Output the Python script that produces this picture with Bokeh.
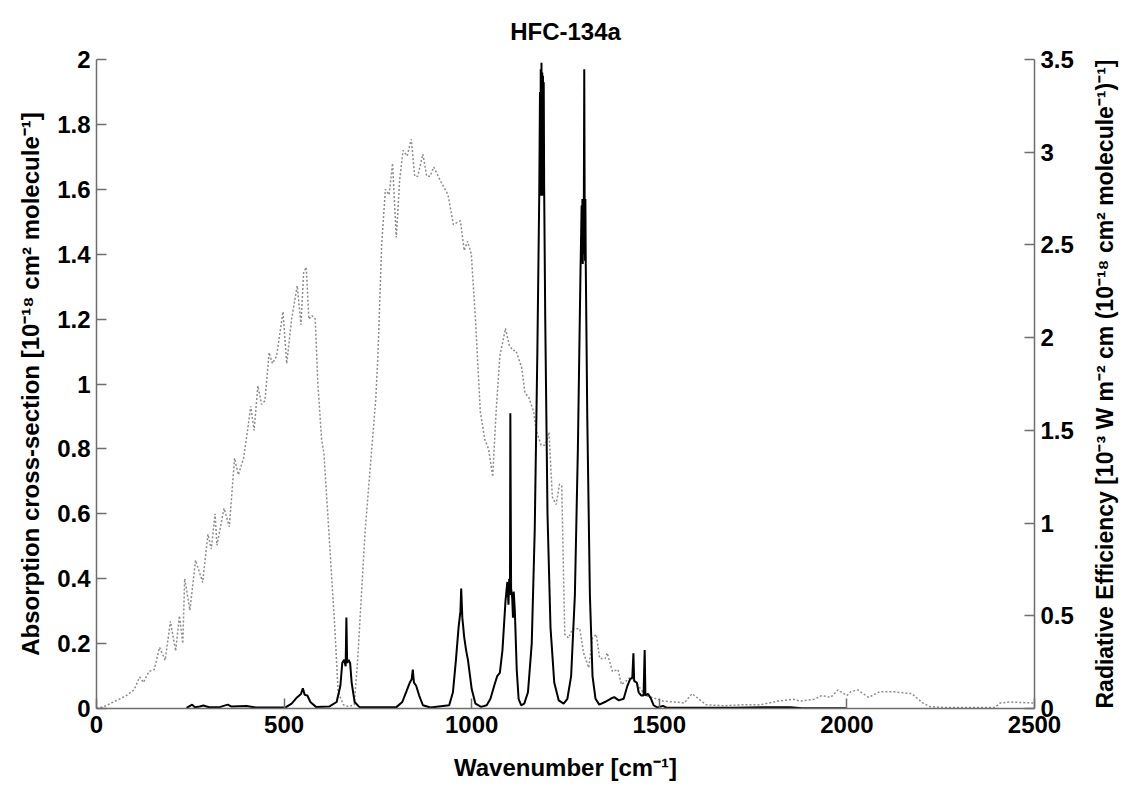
import math
from bokeh.plotting import figure
from bokeh.layouts import row
from bokeh.models import Range1d, LinearAxis, FixedTicker, CustomJSTickFormatter, Title
from bokeh.embed import file_html
from bokeh.resources import INLINE

# Absorption cross-section (left axis, 10^-18 cm^2 molecule^-1)
wn_abs = [240, 255, 262, 275, 285, 300, 330, 350, 360, 400, 420, 470, 505, 520, 535, 545, 550, 555, 562, 570, 585,
          620, 640, 650, 655, 660, 664, 666, 668, 672, 676, 680, 688, 700, 760, 800, 815, 825, 835, 840, 843, 846,
          852, 860, 870, 890, 940, 950, 958, 965, 970, 972, 975, 980, 985, 990, 1000, 1010, 1025, 1040, 1050, 1060,
          1068, 1075, 1082, 1090, 1095, 1098, 1100, 1102, 1103, 1105, 1108, 1110, 1112, 1115, 1120, 1125, 1132,
          1140, 1150, 1160, 1168, 1175, 1180, 1182, 1183, 1184, 1185, 1186, 1187, 1188, 1189, 1190, 1191, 1192,
          1193, 1196, 1202, 1210, 1220, 1232,
          1245, 1255, 1265, 1275, 1283, 1290, 1293, 1294, 1295, 1296, 1297, 1298, 1299, 1300, 1301, 1302, 1303,
          1304, 1308, 1315, 1322, 1330, 1340,
          1355, 1370, 1380, 1392, 1405, 1415, 1422, 1428, 1431, 1433, 1440, 1445, 1452, 1458, 1461, 1463, 1470,
          1478, 1485, 1495, 1510, 1520, 1700, 1800, 1850, 1880, 2000]
abs_cs = [0.002, 0.012, 0.004, 0.006, 0.009, 0.004, 0.005, 0.012, 0.006, 0.008, 0.004, 0.003, 0.004, 0.015, 0.035,
          0.045, 0.062, 0.042, 0.04, 0.02, 0.005, 0.006, 0.02, 0.07, 0.14, 0.15, 0.13, 0.28, 0.14, 0.15, 0.14, 0.08,
          0.02, 0.005, 0.004, 0.005, 0.02, 0.05, 0.08, 0.09, 0.12, 0.08, 0.07, 0.04, 0.01, 0.003, 0.01, 0.05, 0.15,
          0.25, 0.3, 0.37, 0.28, 0.22, 0.18, 0.15, 0.06, 0.015, 0.005, 0.01, 0.03, 0.07, 0.1, 0.11, 0.18, 0.33,
          0.39, 0.32, 0.4, 0.35, 0.91, 0.37, 0.34, 0.28, 0.36, 0.3, 0.12, 0.03, 0.01, 0.015, 0.05, 0.2, 0.55, 1.1,
          1.58, 1.9, 1.6, 1.97, 1.58, 1.99, 1.6, 1.96, 1.58, 1.95, 1.6, 1.93,
          1.62, 1.2, 0.6, 0.25, 0.08, 0.025,
          0.015, 0.03, 0.1, 0.35, 0.8, 1.35, 1.55, 1.38, 1.57, 1.37, 1.57, 1.4, 1.6, 1.97, 1.57, 1.38, 1.57,
          1.37, 0.9, 0.35, 0.1, 0.03, 0.012,
          0.02, 0.03, 0.035, 0.025, 0.03, 0.07,
          0.09, 0.095, 0.17, 0.085, 0.08, 0.05, 0.04, 0.04, 0.18, 0.04, 0.045, 0.03, 0.01, 0.003, 0.008, 0.002,
          0.002, 0.004, 0.004, 0.001, 0.001]

# Radiative efficiency (right axis, 10^-3 W m^-2 cm (10^-18 cm^2 molecule^-1)^-1)
wn_re = [0, 20, 40, 60, 80, 100, 115, 125, 140, 154, 168, 183, 197, 211, 221, 230, 235, 249, 264, 283, 297, 306,
         316, 321, 340, 354, 368, 378, 392, 402, 411, 420, 430, 440, 449, 460, 469, 480, 497, 507, 520, 535, 545,
         552, 559, 566, 574, 583, 590, 600, 606, 620, 635, 644, 658, 672, 687, 696, 706, 716, 730, 744, 750, 760,
         770, 780, 789, 799, 808, 817, 828, 839, 848, 856, 870, 880, 889, 899, 918, 937, 951, 970, 980, 989, 999,
         1010, 1023, 1035, 1045, 1056, 1065, 1075, 1090, 1100, 1110, 1118, 1133, 1142, 1152, 1165, 1172, 1185,
         1196, 1206, 1215, 1225, 1234, 1240, 1248, 1258, 1269, 1288, 1298, 1312, 1322, 1332, 1341, 1356, 1361,
         1375, 1390, 1399, 1413, 1423, 1442, 1462, 1481, 1510, 1567, 1587, 1606, 1625, 1673, 1721, 1769, 1817,
         1856, 1875, 1913, 1933, 1957, 1976, 2000, 2010, 2029, 2058, 2087, 2125, 2173, 2202, 2221, 2260, 2394,
         2409, 2433, 2490, 2500]
re_vals = [0.0, 0.01, 0.03, 0.05, 0.07, 0.1, 0.17, 0.14, 0.2, 0.21, 0.33, 0.26, 0.47, 0.31, 0.5, 0.35, 0.7, 0.53,
           0.8, 0.68, 0.94, 0.86, 1.05, 0.88, 1.08, 0.98, 1.35, 1.26, 1.35, 1.49, 1.63, 1.5, 1.74, 1.64, 1.66, 1.92,
           1.86, 1.9, 2.14, 1.86, 2.1, 2.28, 2.07, 2.35, 2.38, 2.1, 2.12, 2.1, 1.75, 1.45, 1.38, 0.93, 0.44, 0.09,
           0.02, 0.01, 0.02, 0.26, 0.61, 0.96, 1.31, 1.66, 1.9, 2.5, 2.8, 2.77, 2.94, 2.54, 2.85, 3.01, 2.98, 3.07,
           2.87, 2.87, 2.99, 2.87, 2.87, 2.92, 2.84, 2.77, 2.61, 2.63, 2.47, 2.52, 2.45, 2.1, 1.6, 1.45, 1.4, 1.25,
           1.6, 1.9, 2.05, 1.96, 1.93, 1.93, 1.84, 1.7, 1.68, 1.6, 1.5, 1.42, 1.42, 1.49, 1.14, 1.1, 1.21, 1.2, 0.4,
           0.38, 0.43, 0.43, 0.3, 0.22, 0.38, 0.4, 0.27, 0.27, 0.3, 0.2, 0.21, 0.13, 0.15, 0.17, 0.13, 0.07, 0.06,
           0.04, 0.03, 0.08, 0.05, 0.02, 0.015, 0.02, 0.02, 0.04, 0.05, 0.04, 0.05, 0.07, 0.06, 0.1, 0.07, 0.09,
           0.1, 0.06, 0.09, 0.09, 0.08, 0.03, 0.01, 0.005, 0.005, 0.03, 0.035, 0.03, 0.03]

x_ticks = [0, 500, 1000, 1500, 2000, 2500]
left_ticks = [0, 0.2, 0.4, 0.6, 0.8, 1.0, 1.2, 1.4, 1.6, 1.8, 2.0]
right_ticks = [0, 0.5, 1.0, 1.5, 2.0, 2.5, 3.0, 3.5]

title_text = "HFC-134a"
x_label = "Wavenumber [cm\u207B\u00B9]"
left_label = "Absorption cross-section [10\u207B\u00B9\u2078 cm\u00B2 molecule\u207B\u00B9]"
right_label = "Radiative Efficiency [10\u207B\u00B3 W m\u207B\u00B2 cm (10\u207B\u00B9\u2078 cm\u00B2 molecule\u207B\u00B9)\u207B\u00B9]"

FONT = "Liberation Sans"
AX_COL = "#6e6e6e"
H = 785

p = figure(width=1089, height=H, output_backend="svg", toolbar_location=None,
           x_range=Range1d(0, 2500), y_range=Range1d(0, 2),
           min_border_left=96, min_border_right=55, min_border_top=58, min_border_bottom=77,
           title=title_text)
p.extra_y_ranges = {"re": Range1d(0, 3.5)}
p.outline_line_color = None
p.xgrid.visible = False
p.ygrid.visible = False
p.background_fill_color = "white"
p.border_fill_color = "white"

p.title.align = "center"
p.title.vertical_align = "bottom"
p.title.text_font = FONT
p.title.text_font_size = "24px"
p.title.text_font_style = "bold"
p.title.text_color = "black"
p.title.standoff = 30

fmt = CustomJSTickFormatter(code="return parseFloat(tick.toFixed(2)).toString();")

right_axis = LinearAxis(y_range_name="re")
p.add_layout(right_axis, "right")

for ax in [p.xaxis[0], p.yaxis[0], right_axis]:
    ax.axis_line_color = AX_COL
    ax.axis_line_width = 1.5
    ax.major_tick_line_color = AX_COL
    ax.major_tick_line_width = 1.5
    ax.major_tick_in = 10
    ax.major_tick_out = 0
    ax.minor_tick_line_color = None
    ax.major_label_text_font = FONT
    ax.major_label_text_font_size = "24px"
    ax.major_label_text_font_style = "bold"
    ax.major_label_text_color = "black"
    ax.axis_label_text_font = FONT
    ax.axis_label_text_font_size = "24px"
    ax.axis_label_text_font_style = "bold"
    ax.axis_label_text_color = "black"
    ax.formatter = fmt

p.xaxis[0].ticker = FixedTicker(ticks=x_ticks)
p.yaxis[0].ticker = FixedTicker(ticks=left_ticks)
right_axis.ticker = FixedTicker(ticks=right_ticks)

p.xaxis[0].axis_label = x_label
p.xaxis[0].major_label_standoff = 7
p.xaxis[0].axis_label_standoff = 18
p.yaxis[0].axis_label = left_label
p.yaxis[0].major_label_standoff = 6
p.yaxis[0].axis_label_standoff = 10
right_axis.major_label_standoff = 6

p.line(wn_re, re_vals, y_range_name="re", line_color="#8c8c8c", line_width=1.5, line_dash="2 2")
p.line(wn_abs, abs_cs, line_color="black", line_width=2)

# narrow side strip whose left-panel title carries the right-hand axis title (reads bottom-to-top)
side = figure(width=36, height=H, output_backend="svg", toolbar_location=None,
              x_range=Range1d(0, 1), y_range=Range1d(0, 1),
              x_axis_location=None, y_axis_location=None,
              min_border_left=0, min_border_right=0, min_border_top=58, min_border_bottom=77)
side.outline_line_color = None
side.xgrid.visible = False
side.ygrid.visible = False
side.add_layout(Title(text=right_label, align="center", standoff=0,
                      text_font=FONT, text_font_size="23px", text_font_style="bold",
                      text_color="black"), "left")

layout = row(p, side, spacing=0)
open("out.html", "w").write(file_html(layout, INLINE))
